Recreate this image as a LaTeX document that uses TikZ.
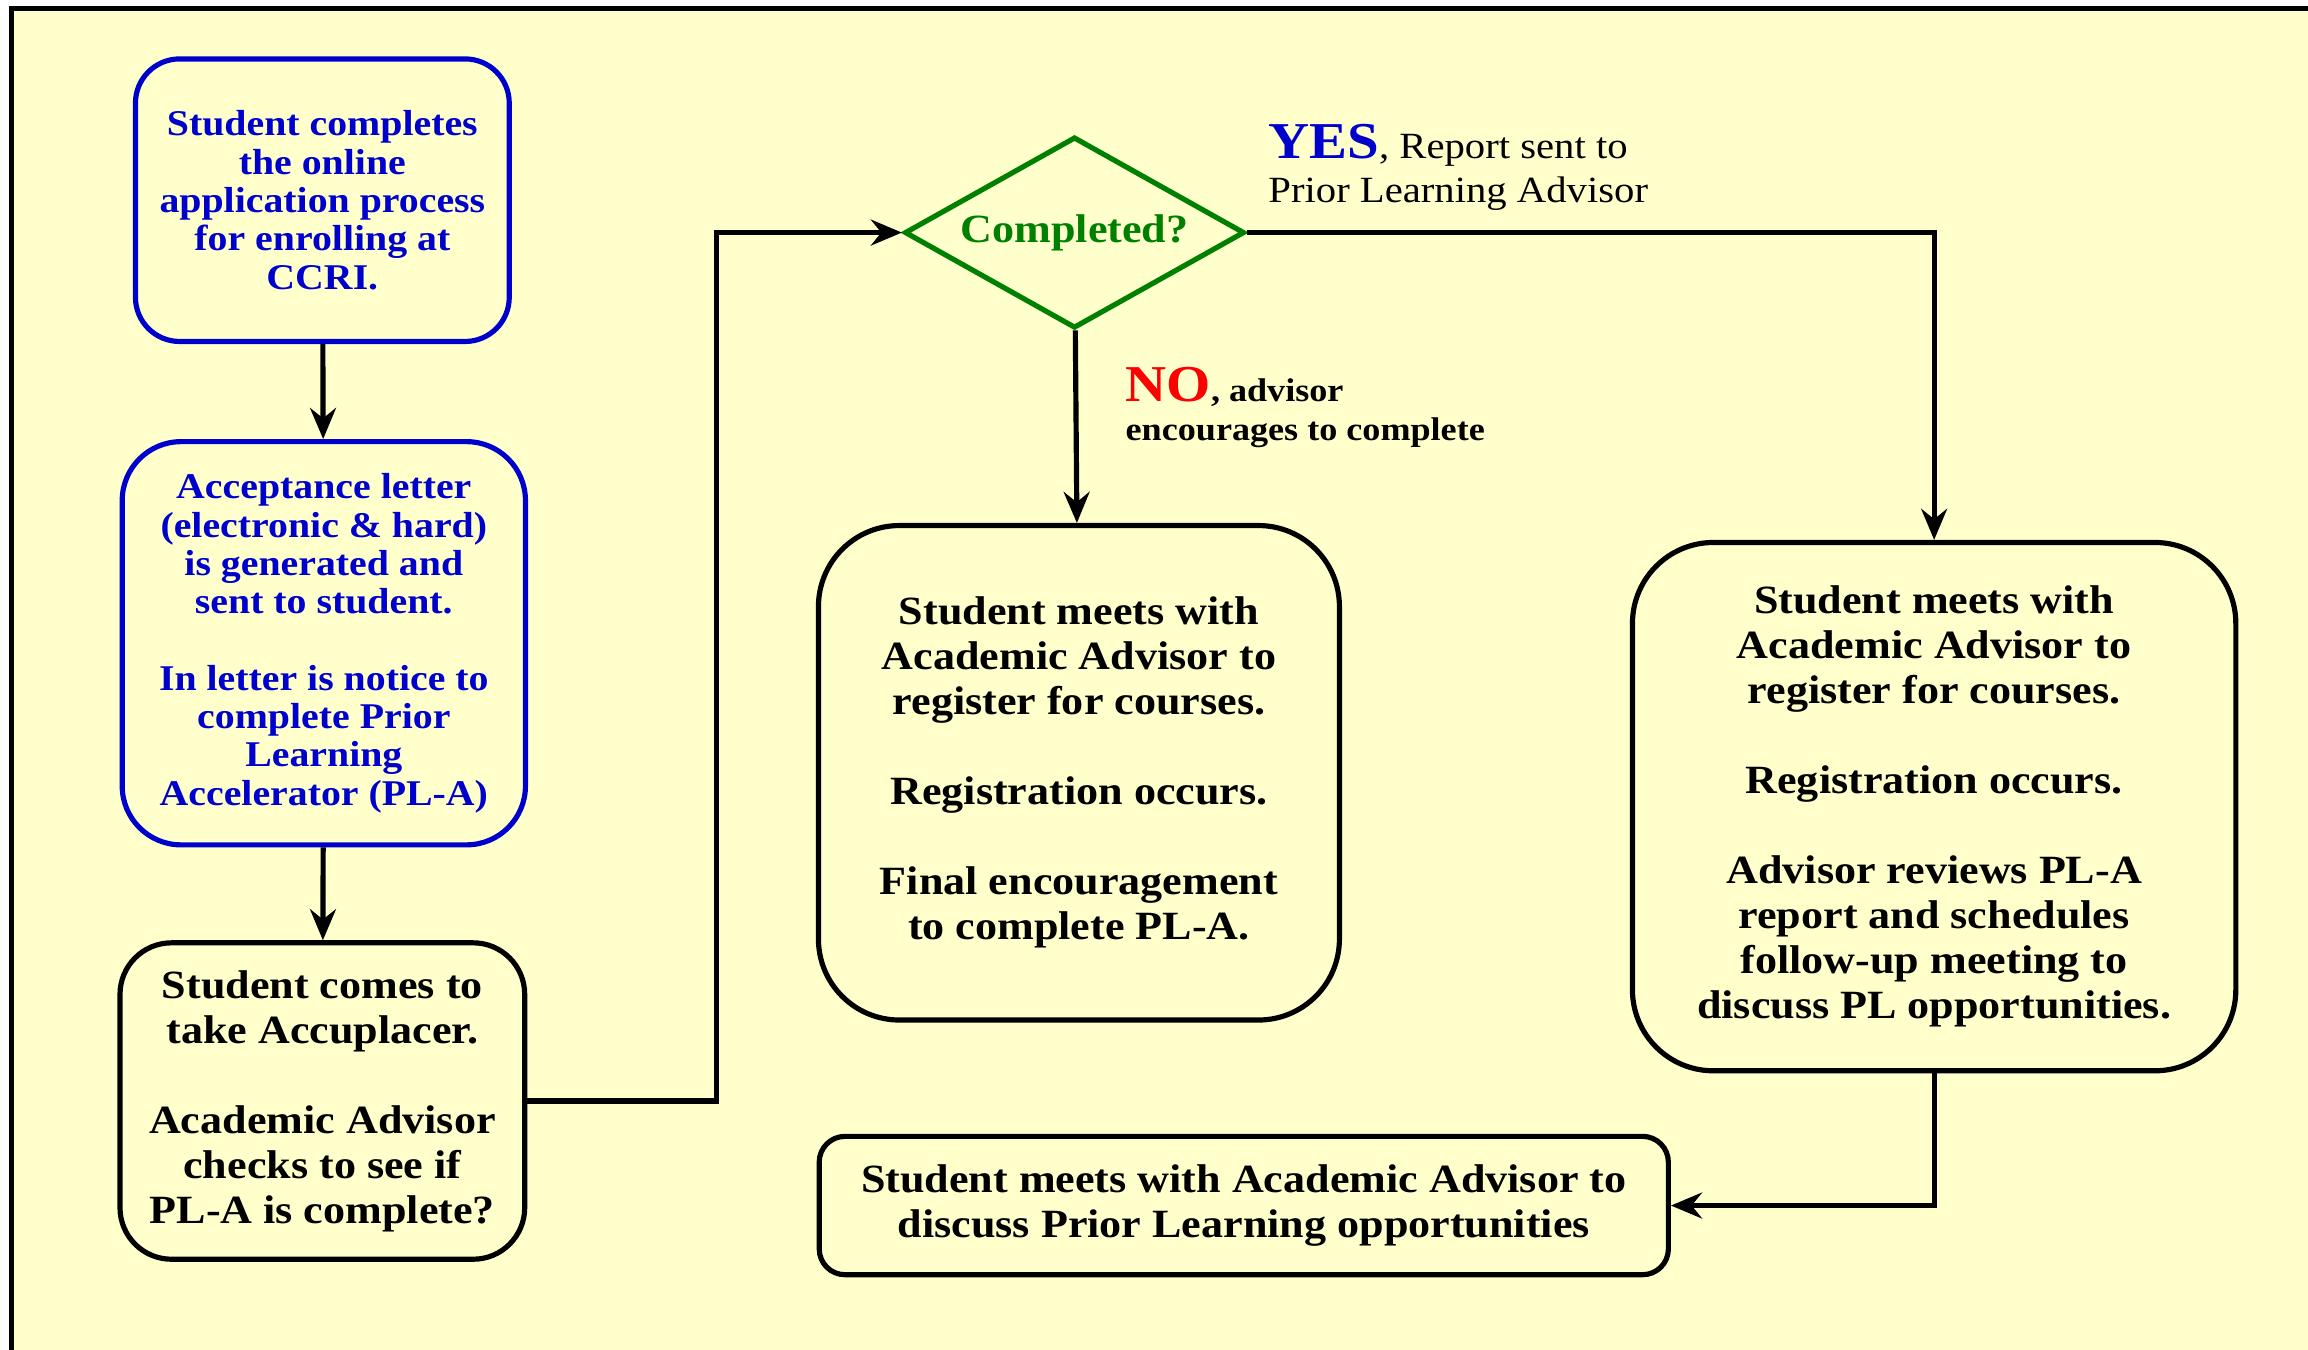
\documentclass[tikz,border=0pt]{standalone}
\usepackage{fontspec}
\setmainfont[FakeStretch=1.1]{Liberation Serif}
\usetikzlibrary{arrows.meta,shapes}
\definecolor{paper}{RGB}{255,255,204}
\definecolor{formblue}{RGB}{0,0,204}
\definecolor{checkgreen}{RGB}{0,128,0}

\begin{document}
\begin{tikzpicture}[x=0.02cm,y=-0.02cm,->,>={Stealth[length=12pt,width=10pt,inset=4pt]},line width=2pt,
    bluebox/.style={shape=rectangle,draw=formblue,text=formblue,align=center,inner sep=0pt,
        font=\fontsize{14}{14.8}\selectfont\bfseries},
    blackbox/.style={shape=rectangle,draw=black,align=center,inner sep=0pt,
        font=\fontsize{15.5}{17.4}\selectfont\bfseries}]
                \clip (0,0) rectangle (1568,917);
                \fill[white,-] (0,0) rectangle (1568,917);
                \filldraw[fill=paper,draw=black,line width=2pt,-] (8,6) rectangle (1600,950);

                \node[bluebox,rounded corners=0.6cm,minimum width=5.08cm,minimum height=3.84cm](apply)at(219, 136){Student completes\\the online\\application process\\for enrolling at\\CCRI.};
                \node[bluebox,rounded corners=0.8cm,minimum width=5.48cm,minimum height=5.48cm](letter)at(220, 437){Acceptance letter\\(electronic \& hard)\\is generated and\\sent to student.\\[14.8pt]In letter is notice to\\complete Prior\\Learning\\Accelerator (PL-A)};
                \node[blackbox,rounded corners=0.7cm,minimum width=5.5cm,minimum height=4.3cm](accu)at(219, 748){Student comes to\\take Accuplacer.\\[17.4pt]Academic Advisor\\checks to see if\\PL-A is complete?};
                \node[shape=diamond,draw=checkgreen,text=checkgreen,aspect=1.8,inner sep=0pt,minimum width=4.62cm,minimum height=2.6cm,font=\fontsize{15.5}{17}\selectfont\bfseries](done)at(730, 158){Completed?};
                \node[blackbox,rounded corners=1.1cm,minimum width=7.08cm,minimum height=6.72cm](regnow)at(733, 525){Student meets with\\Academic Advisor to\\register for courses.\\[17.4pt]Registration occurs.\\[17.4pt]Final encouragement\\to complete PL-A.};
                \node[blackbox,rounded corners=1.1cm,minimum width=8.2cm,minimum height=7.18cm](reglater)at(1314, 548){Student meets with\\Academic Advisor to\\register for courses.\\[17.4pt]Registration occurs.\\[17.4pt]Advisor reviews PL-A\\report and schedules\\follow-up meeting to\\discuss PL opportunities.};
                \node[blackbox,rounded corners=0.35cm,minimum width=11.54cm,minimum height=1.88cm](plmeet)at(845, 819){Student meets with Academic Advisor to\\discuss Prior Learning opportunities};

                % answers of the check
                \node[anchor=west,align=left,inner sep=0pt,font=\fontsize{14.3}{17}\selectfont](yes)at(860, 114){{\fontsize{20}{20}\selectfont\bfseries\color{formblue}YES}, Report sent to\\Prior Learning Advisor};
                \node[anchor=west,align=left,inner sep=0pt,font=\fontsize{12.7}{15}\selectfont\bfseries](no)at(763, 277){{\fontsize{20}{20}\selectfont\color{red}NO}, advisor\\encourages to complete};

                \coordinate (elbow) at (487, 748);
                \path[](apply) edge (letter)
                (letter) edge (accu)
                (done) edge (regnow);
                \draw (accu.east) -- (elbow) |- (done.west);
                \draw (done.east) -| (reglater.north);
                \draw (reglater.south) |- (plmeet.east);
            \end{tikzpicture}
\end{document}
